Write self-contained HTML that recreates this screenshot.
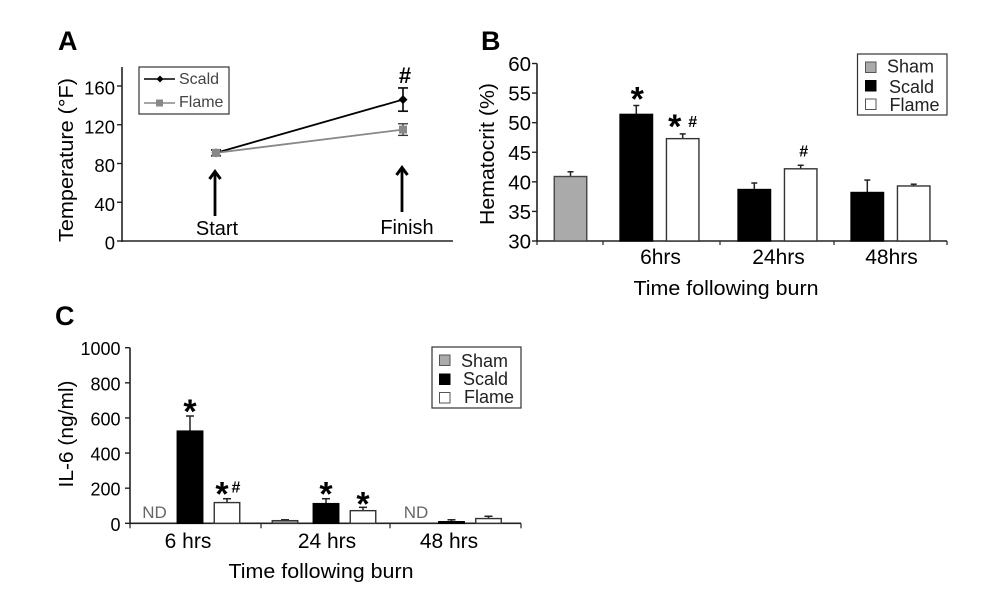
<!DOCTYPE html>
<html lang="en">
<head>
<meta charset="utf-8">
<title>Burn model figure</title>
<style>
html,body{margin:0;padding:0;background:#fff;}
body{width:984px;height:600px;overflow:hidden;}
svg{display:block;filter:blur(0.35px);}
text{font-family:"Liberation Sans",Arial,sans-serif;}
.panel{font-size:27px;font-weight:bold;fill:#000;}
.title{font-size:20px;}
.leg{font-size:18px;fill:#222;}
.legA{font-size:16px;fill:#444;}
</style>
</head>
<body>
<svg id="fig" width="984" height="600" viewBox="0 0 984 600" xmlns="http://www.w3.org/2000/svg">
  <rect x="0" y="0" width="984" height="600" fill="#fff"/>

  <text class="panel" x="58" y="50">A</text>
  <text class="panel" x="481" y="50">B</text>
  <text class="panel" x="55" y="325">C</text>

  <text class="title" transform="translate(73,160) rotate(-90)" text-anchor="middle" textLength="164" lengthAdjust="spacingAndGlyphs">Temperature (°F)</text>
  <text class="title" transform="translate(494,154) rotate(-90)" text-anchor="middle" textLength="142" lengthAdjust="spacingAndGlyphs">Hematocrit (%)</text>
  <text class="title" x="726" y="295" text-anchor="middle" textLength="185" lengthAdjust="spacingAndGlyphs">Time following burn</text>
  <text class="title" transform="translate(73,434) rotate(-90)" text-anchor="middle" textLength="107" lengthAdjust="spacingAndGlyphs">IL-6 (ng/ml)</text>
  <text class="title" x="321" y="578" text-anchor="middle" textLength="185" lengthAdjust="spacingAndGlyphs">Time following burn</text>

  <g>
    <rect x="139" y="67" width="90" height="47" fill="#fff" stroke="#333" stroke-width="1.2"/>
    <line x1="144" y1="79" x2="175" y2="79" stroke="#000" stroke-width="1.4"/>
    <polygon points="160,75.5 163.5,79 160,82.5 156.5,79" fill="#000"/>
    <text class="legA" x="179" y="84">Scald</text>
    <line x1="144" y1="103" x2="175" y2="103" stroke="#888" stroke-width="1.4"/>
    <rect x="156" y="99.5" width="7" height="7" fill="#888"/>
    <text class="legA" x="179" y="107">Flame</text>
  </g>

  <g>
    <rect x="857.5" y="54" width="89.5" height="61" fill="#fff" stroke="#333" stroke-width="1.2"/>
    <rect x="865.5" y="62" width="10.5" height="10.5" fill="#aaa" stroke="#555"/>
    <rect x="865.5" y="80.5" width="10.5" height="10.5" fill="#000" stroke="#000"/>
    <rect x="865.5" y="99" width="10.5" height="10.5" fill="#fff" stroke="#555"/>
    <text class="leg" x="887" y="72.5">Sham</text>
    <text class="leg" x="889" y="93">Scald</text>
    <text class="leg" x="889.5" y="111">Flame</text>
  </g>

  <g>
    <rect x="432" y="347" width="89" height="61" fill="#fff" stroke="#333" stroke-width="1.2"/>
    <rect x="439.5" y="355" width="10.5" height="10.5" fill="#aaa" stroke="#555"/>
    <rect x="439.5" y="374" width="10.5" height="10.5" fill="#000" stroke="#000"/>
    <rect x="439.5" y="392.5" width="10.5" height="10.5" fill="#fff" stroke="#555"/>
    <text class="leg" x="461" y="367">Sham</text>
    <text class="leg" x="463" y="385">Scald</text>
    <text class="leg" x="464" y="403">Flame</text>
  </g>
</svg>

<script>
/* Panel A: temperature */
const tempTimepoints = ['Start', 'Finish'];
const tempTicks = [0, 40, 80, 120, 160];
const tempScald = [91, 146];
const tempScaldErr = [3, 12];
const tempFlame = [91, 115];
const tempFlameErr = [3, 6];

/* Panel B: hematocrit */
const hctCategories = ['', '6hrs', '24hrs', '48hrs'];
const hctTicks = [30, 35, 40, 45, 50, 55, 60];
const hctSham = [40.9, null, null, null];
const hctShamErr = [0.8, null, null, null];
const hctScald = [null, 51.4, 38.7, 38.2];
const hctScaldErr = [null, 1.5, 1.1, 2.1];
const hctFlame = [null, 47.3, 42.2, 39.3];
const hctFlameErr = [null, 0.8, 0.6, 0.3];

/* Panel C: IL-6 */
const il6Categories = ['6 hrs', '24 hrs', '48 hrs'];
const il6Ticks = [0, 200, 400, 600, 800, 1000];
const il6Sham = [null, 15, null];
const il6ShamErr = [null, 5, null];
const il6Scald = [525, 112, 9];
const il6ScaldErr = [86, 28, 11];
const il6Flame = [118, 72, 27];
const il6FlameErr = [22, 19, 13];

const svg = document.getElementById('fig');
const NS = 'http://www.w3.org/2000/svg';
const AXIS = '#222';

function add(parent, tag, attrs, name, text) {
  const el = document.createElementNS(NS, tag);
  for (const k in attrs) el.setAttribute(k, attrs[k]);
  
  
  if (text !== undefined) el.textContent = text;
  parent.appendChild(el);
  return el;
}
function linear(d0, d1, r0, r1) {
  return function (v) { return r0 + (v - d0) * (r1 - r0) / (d1 - d0); };
}
function yAxis(g, prefix, x, y, ticks, yTop, size, labelRight, baseOffset) {
  add(g, 'line', {x1: x, x2: x, y1: yTop, y2: y(ticks[0]) + 1, stroke: AXIS, 'stroke-width': 1.6}, prefix + '-y-axis-line');
  ticks.forEach(function (t) {
    add(g, 'line', {x1: x - 5, x2: x, y1: y(t), y2: y(t), stroke: AXIS, 'stroke-width': 1.4}, prefix + '-y-tick');
    add(g, 'text', {x: labelRight, y: y(t) + baseOffset, 'text-anchor': 'end', 'font-size': size}, prefix + '-y-tick-label', String(t));
  });
}
function errorBar(g, name, x, yLow, yHigh, cap, color, w) {
  add(g, 'line', {x1: x, x2: x, y1: yLow, y2: yHigh, stroke: color, 'stroke-width': w}, name + '-error-stem');
  add(g, 'line', {x1: x - cap / 2, x2: x + cap / 2, y1: yHigh, y2: yHigh, stroke: color, 'stroke-width': w}, name + '-error-cap');
}
function bar(g, name, cx, width, y, value, err, fill, stroke, cap) {
  if (value === null) return;
  const yTop = y(value), yBase = y(y.base);
  errorBar(g, name, cx, yTop, y(value + err), cap, '#222', 1.5);
  add(g, 'rect', {x: cx - width / 2, y: yTop, width: width, height: yBase - yTop, fill: fill, stroke: stroke, 'stroke-width': 1.4}, name);
}
function note(g, name, x, yCenter, ch) {
  const big = ch === '*';
  const size = big ? 34 : 16;
  const base = big ? yCenter + 16 : yCenter + 6;
  add(g, 'text', {x: x, y: base, 'text-anchor': 'middle', 'font-size': size, 'font-weight': 'bold'}, name, ch);
}

/* ---------- Panel A ---------- */
(function () {
  const g = add(svg, 'g', {}, 'panel-a-temperature-chart');
  const y = linear(0, 160, 241, 86);
  const x = linear(0, 1, 216, 403);
  yAxis(g, 'temperature', 122, y, tempTicks, 67, 18.5, 115, 8.5);
  add(g, 'line', {x1: 122, x2: 453, y1: y(0), y2: y(0), stroke: AXIS, 'stroke-width': 1.6}, 'temperature-x-axis-line');

  const linePts = function (vals) { return vals.map(function (v, i) { return x(i) + ',' + y(v); }).join(' '); };
  add(g, 'polyline', {points: linePts(tempScald), fill: 'none', stroke: '#000', 'stroke-width': 1.8}, 'scald-line');
  tempScald.forEach(function (v, i) {
    const e = tempScaldErr[i], cx = x(i);
    add(g, 'line', {x1: cx, x2: cx, y1: y(v - e), y2: y(v + e), stroke: '#111', 'stroke-width': 1.7}, 'scald-error-stem');
    [v - e, v + e].forEach(function (c) {
      add(g, 'line', {x1: cx - 5, x2: cx + 5, y1: y(c), y2: y(c), stroke: '#111', 'stroke-width': 1.7}, 'scald-error-cap');
    });
    const py = y(v);
    add(g, 'polygon', {points: cx + ',' + (py - 4.5) + ' ' + (cx + 4.5) + ',' + py + ' ' + cx + ',' + (py + 4.5) + ' ' + (cx - 4.5) + ',' + py, fill: '#000'}, 'scald-point');
  });
  add(g, 'polyline', {points: linePts(tempFlame), fill: 'none', stroke: '#888', 'stroke-width': 1.8}, 'flame-line');
  tempFlame.forEach(function (v, i) {
    const e = tempFlameErr[i], cx = x(i);
    add(g, 'line', {x1: cx, x2: cx, y1: y(v - e), y2: y(v + e), stroke: '#333', 'stroke-width': 1.3}, 'flame-error-stem');
    [v - e, v + e].forEach(function (c) {
      add(g, 'line', {x1: cx - 5, x2: cx + 5, y1: y(c), y2: y(c), stroke: '#333', 'stroke-width': 1.3}, 'flame-error-cap');
    });
    add(g, 'rect', {x: cx - 4, y: y(v) - 4, width: 8, height: 8, fill: '#888'}, 'flame-point');
  });
  add(g, 'text', {x: x(1) + 2, y: y(tempScald[1] + tempScaldErr[1]) - 5, 'text-anchor': 'middle', 'font-size': 22, 'font-weight': 'bold'}, 'scald-significance-hash', '#');

  tempTimepoints.forEach(function (name, i) {
    const ax = x(i) - 1;
    const tip = i === 0 ? 170 : 166;
    const tail = i === 0 ? 216 : 212;
    add(g, 'line', {x1: ax, x2: ax, y1: tail, y2: tip + 2, stroke: '#000', 'stroke-width': 2.8}, name.toLowerCase() + '-arrow-shaft');
    add(g, 'polyline', {points: (ax - 5.5) + ',' + (tip + 9) + ' ' + ax + ',' + (tip + 1.5) + ' ' + (ax + 5.5) + ',' + (tip + 9), fill: 'none', stroke: '#000', 'stroke-width': 3}, name.toLowerCase() + '-arrow-head');
    add(g, 'text', {x: i === 0 ? 217 : 407, y: i === 0 ? 235 : 234, 'text-anchor': 'middle', 'font-size': 20}, name.toLowerCase() + '-label', name);
  });
})();

/* ---------- Panel B ---------- */
(function () {
  const g = add(svg, 'g', {}, 'panel-b-hematocrit-chart');
  const y = linear(30, 60, 241, 63.5);
  y.base = 30;
  const centers = [570.5, 659.5, 777.5, 890.5];
  const half = 23.2, w = 32.5;
  yAxis(g, 'hematocrit', 537, y, hctTicks, y(60), 20.5, 531, 7.5);
  add(g, 'line', {x1: 537, x2: 947, y1: y(30), y2: y(30), stroke: AXIS, 'stroke-width': 1.6}, 'hematocrit-x-axis-line');
  [537, 603, 720, 834, 947].forEach(function (t) {
    add(g, 'line', {x1: t, x2: t, y1: y(30), y2: y(30) + 4, stroke: AXIS, 'stroke-width': 1.2}, 'hematocrit-x-tick');
  });
  hctCategories.forEach(function (c, i) {
    const cx = centers[i];
    if (c) add(g, 'text', {x: cx + 1, y: 264, 'text-anchor': 'middle', 'font-size': 21}, 'hematocrit-x-label-' + c, c);
    bar(g, 'hematocrit-bar-sham', cx, w, y, hctSham[i], hctShamErr[i], '#aaa', '#444', 6);
    bar(g, 'hematocrit-bar-scald-' + c, cx - half, w, y, hctScald[i], hctScaldErr[i], '#000', '#000', 6);
    bar(g, 'hematocrit-bar-flame-' + c, cx + half, w, y, hctFlame[i], hctFlameErr[i], '#fff', '#333', 6);
  });
  note(g, 'scald-6hrs-star', centers[1] - half + 1, y(hctScald[1] + hctScaldErr[1]) - 11, '*');
  note(g, 'flame-6hrs-star', centers[1] + half - 8, y(hctFlame[1] + hctFlameErr[1]) - 12, '*');
  note(g, 'flame-6hrs-hash', centers[1] + half + 10, y(hctFlame[1] + hctFlameErr[1]) - 13, '#');
  note(g, 'flame-24hrs-hash', centers[2] + half + 3, y(hctFlame[2] + hctFlameErr[2]) - 15, '#');
})();

/* ---------- Panel C ---------- */
(function () {
  const g = add(svg, 'g', {}, 'panel-c-il6-chart');
  const y = linear(0, 1000, 523.3, 347.7);
  y.base = 0;
  const centers = [190, 326, 451.5];
  const labels = [188, 327, 449];
  const w = 25.5;
  yAxis(g, 'il6', 130, y, il6Ticks, y(1000), 18, 120.5, 7.5);
  add(g, 'line', {x1: 130, x2: 521, y1: y(0), y2: y(0), stroke: AXIS, 'stroke-width': 1.6}, 'il6-x-axis-line');
  [130, 261, 390, 521].forEach(function (t) {
    add(g, 'line', {x1: t, x2: t, y1: y(0), y2: y(0) + 5, stroke: AXIS, 'stroke-width': 1.2}, 'il6-x-tick');
  });
  il6Categories.forEach(function (c, i) {
    const cx = centers[i];
    const slug = c.replace(' ', '');
    add(g, 'text', {x: labels[i], y: 548, 'text-anchor': 'middle', 'font-size': 21}, 'il6-x-label-' + slug, c);
    bar(g, 'il6-bar-sham-' + slug, cx - 41, w, y, il6Sham[i], il6ShamErr[i], '#aaa', '#333', 8);
    bar(g, 'il6-bar-scald-' + slug, cx, w, y, il6Scald[i], il6ScaldErr[i], '#000', '#000', 8);
    bar(g, 'il6-bar-flame-' + slug, cx + 37, w, y, il6Flame[i], il6FlameErr[i], '#fff', '#333', 8);
    if (il6Sham[i] === null) {
      add(g, 'text', {x: cx - 35.5, y: 518, 'text-anchor': 'middle', 'font-size': 17, fill: '#666'}, 'not-detected-label', 'ND');
    }
  });
  note(g, 'scald-6hrs-star', centers[0], y(il6Scald[0] + il6ScaldErr[0]) - 9, '*');
  note(g, 'flame-6hrs-star', centers[0] + 32, y(il6Flame[0] + il6FlameErr[0]) - 9, '*');
  note(g, 'flame-6hrs-hash', centers[0] + 46, y(il6Flame[0] + il6FlameErr[0]) - 12, '#');
  note(g, 'scald-24hrs-star', centers[1], y(il6Scald[1] + il6ScaldErr[1]) - 9, '*');
  note(g, 'flame-24hrs-star', centers[1] + 37, y(il6Flame[1] + il6FlameErr[1]) - 8, '*');
})();
</script>
</body>
</html>
